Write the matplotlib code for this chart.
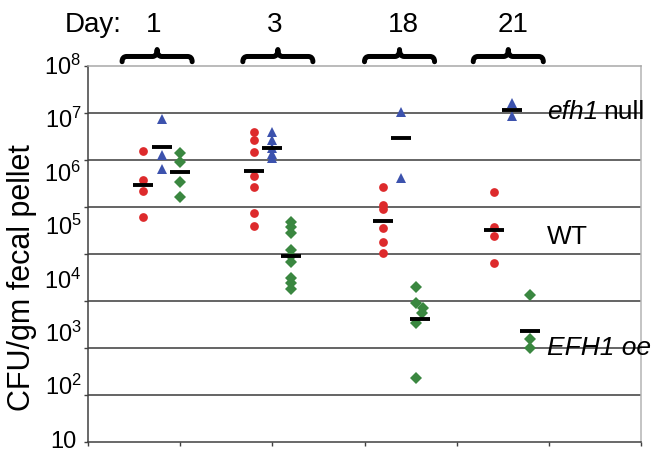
import numpy as np
import matplotlib.pyplot as plt
from matplotlib.path import Path
from matplotlib.patches import PathPatch
from matplotlib.transforms import blended_transform_factory

plt.rcParams['font.family'] = ['Liberation Sans', 'DejaVu Sans']
plt.rcParams['mathtext.fontset'] = 'custom'
plt.rcParams['mathtext.rm'] = 'Liberation Sans'
plt.rcParams['mathtext.it'] = 'Liberation Sans:italic'

# Days and x positions of each strain column (x axis runs 0..6)
days = ["1", "3", "18", "21"]
x_wt = [0.6, 1.8, 3.2, 4.4]
x_null = [0.8, 2.0, 3.4, 4.6]
x_oe = [1.0, 2.2, 3.6, 4.8]

# log10 CFU/gm fecal pellet
wt = [[6.19, 5.57, 5.34, 4.78],
      [6.58, 6.42, 6.17, 5.66, 5.42, 4.86, 4.60],
      [5.42, 5.04, 4.95, 4.54, 4.25, 4.01],
      [5.31, 4.58, 4.37, 3.80]]
null = [[6.86, 6.10, 5.80],
        [6.60, 6.41, 6.26, 6.13, 6.03],
        [7.02, 5.61],
        [7.20, 6.93]]
oe = [[6.14, 5.96, 5.52, 5.20],
      [4.68, 4.58, 4.44, 4.08, 3.96, 3.83, 3.48, 3.37, 3.25],
      [3.30, 2.95, 2.84, 2.74, 2.52, 1.36],
      [3.13, 2.18, 1.99]]
oe_jitter = [None, None, [-0.04, -0.04, 0.04, 0.02, -0.04, -0.04], None]

# means shown as black bars
wt_mean = [5.46, 5.77, 4.70, 4.51]
null_mean = [6.27, 6.26, 6.47, 7.06]
oe_mean = [5.75, 3.96, 2.61, 2.37]

ytick_labels = ["10$^8$", "10$^7$", "10$^6$", "10$^5$", "10$^4$", "10$^3$", "10$^2$", "10"]

red = '#dd2a2c'
blue = '#3c52ad'
green = '#3a8740'

W, H = 661, 453
fig = plt.figure(figsize=(W / 100, H / 100), dpi=100)
ax = fig.add_axes([88 / W, 1 - 442 / H, (641 - 88) / W, (442 - 65.7) / H])

ax.set_yscale('log')
ax.set_ylim(1, 1e8)
ax.set_xlim(0, 6)

for i in range(len(days)):
    ax.plot([x_wt[i]] * len(wt[i]), 10 ** np.array(wt[i]), 'o', color=red,
            markersize=6.3, markeredgewidth=0, zorder=3)
    ax.plot([x_null[i]] * len(null[i]), 10 ** np.array(null[i]), '^', color=blue,
            markersize=7.5, markeredgewidth=0, zorder=3)
    xo = np.full(len(oe[i]), x_oe[i])
    if oe_jitter[i] is not None:
        xo = xo + np.array(oe_jitter[i])
    ax.plot(xo, 10 ** np.array(oe[i]), 'D', color=green,
            markersize=6, markeredgewidth=0, zorder=3)

# mean bars
for xs, ms in [(x_wt, wt_mean), (x_null, null_mean), (x_oe, oe_mean)]:
    ax.plot(xs, 10 ** np.array(ms), '_', color='black', markersize=14,
            markeredgewidth=2.8, zorder=4, linestyle='none')

# grid and axes look
ax.set_yticks(10.0 ** np.arange(0, 9))
ax.yaxis.set_minor_locator(plt.NullLocator())
ax.set_yticklabels([])
ax.set_xticks(np.arange(0, 7))
ax.set_xticklabels([])
ax.tick_params(axis='both', direction='out', length=3, width=1, color='#404040')
ax.grid(axis='y', color='#4a4a4a', linewidth=1.2)
ax.set_axisbelow(True)
glines = ax.get_ygridlines()
glines[0].set_visible(False)
glines[-1].set_visible(False)
ax.spines['left'].set_color('#404040')
ax.spines['bottom'].set_color('#404040')
ax.spines['top'].set_color('#a8a8a8')
ax.spines['right'].set_color('#b4b4b4')
for s in ax.spines.values():
    s.set_linewidth(1.1)

# y tick labels, spread evenly from top to bottom as in the original figure
n = len(ytick_labels)
for k, lab in enumerate(ytick_labels):
    ypix = 66.5 + (440 - 66.5) * k / (n - 1) + 8.5
    fig.text(63 / W, 1 - ypix / H, lab, ha='center', va='baseline', fontsize=17)

fig.text(22.5 / W, 1 - 277.5 / H, "CFU/gm fecal pellet", rotation=90,
         ha='center', va='center', fontsize=22)

# day labels and braces
fig.text(93 / W, 1 - 32.3 / H, "Day:", ha='center', va='baseline', fontsize=20)
day_pix = [154, 275, 403, 513]
for d, xp in zip(days, day_pix):
    fig.text(xp / W, 1 - 32.3 / H, d, ha='center', va='baseline', fontsize=20)

trans = blended_transform_factory(ax.transData, ax.transAxes)
brace_centers = [0.75, 2.06, 3.38, 4.56]
hw, r = 0.38, 0.05
y_end, y_arm, y_peak = 1.0106, 1.0245, 1.043
for xc in brace_centers:
    verts = [(xc - hw, y_end), (xc - hw, y_arm), (xc - hw + r, y_arm),
             (xc - r, y_arm), (xc, y_arm), (xc, y_peak),
             (xc, y_arm), (xc + r, y_arm),
             (xc + hw - r, y_arm), (xc + hw, y_arm), (xc + hw, y_end)]
    codes = [Path.MOVETO, Path.CURVE3, Path.CURVE3,
             Path.LINETO, Path.CURVE3, Path.CURVE3,
             Path.CURVE3, Path.CURVE3,
             Path.LINETO, Path.CURVE3, Path.CURVE3]
    ax.add_patch(PathPatch(Path(verts, codes), fill=False, lw=3.6, color='black',
                           capstyle='round', joinstyle='round',
                           transform=trans, clip_on=False))

# series labels on the right
t1 = fig.text(546.7 / W, 1 - 111.7 / H, "efh1", ha='left', va='center',
              fontsize=19, style='italic')
fig.canvas.draw()
bb = t1.get_window_extent()
fig.text((bb.x1 + 5) / W, 1 - 111.7 / H, "null", ha='left', va='center', fontsize=19)
fig.text(546.7 / W, 1 - 236.7 / H, "WT", ha='left', va='center', fontsize=19)
fig.text(546.7 / W, 1 - 348.3 / H, "EFH1 oe", ha='left', va='center', fontsize=19,
         style='italic')

fig.savefig("out.png", dpi=100)
